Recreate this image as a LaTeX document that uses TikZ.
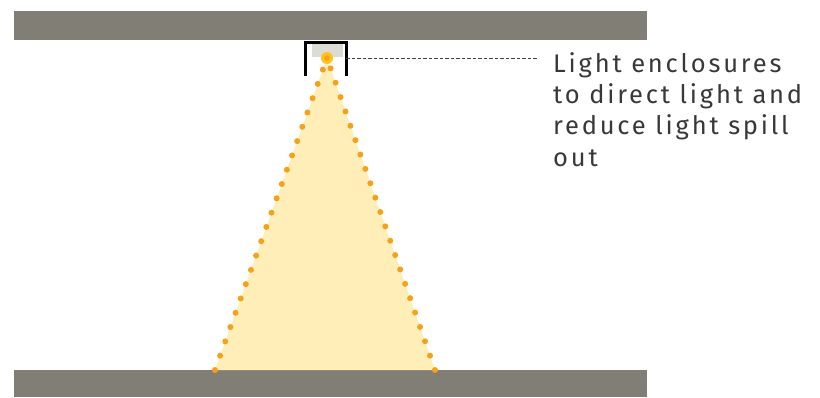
\documentclass[tikz,border=0pt]{standalone}
\usepackage{fontspec}
\setmainfont{Fira Sans}
\usetikzlibrary{positioning}

\definecolor{slab}{HTML}{817E75}
\definecolor{beam}{HTML}{FFEEB8}
\definecolor{beamdot}{HTML}{F7A11A}
\definecolor{housing}{HTML}{DCDBD4}
\definecolor{bulb}{HTML}{FFC21A}

\begin{document}
\begin{tikzpicture}[x=1pt,y=-1pt]
  \tikzstyle{slabbox}=[fill=slab,draw=none,minimum width=633pt,minimum height=29pt,inner sep=0pt]
  \tikzstyle{beamedge}=[beamdot,line width=6pt,line cap=round,dash pattern=on 0pt off 15.2pt]
  \useasboundingbox (0,0) rectangle (820,397);
  \node[slabbox,anchor=north west] (ceiling) at (14,11) {};
  \node[slabbox,anchor=south west,minimum height=27pt] (floor) at (14,397) {};
  \node[minimum width=40pt,minimum height=33pt,inner sep=0pt] (encl) at (326,59.5) {};
  \node[fill=housing,minimum width=31pt,minimum height=14pt,inner sep=0pt,anchor=north] (shade) at (327.5,43) {};
  \coordinate (beamL) at (215,370);
  \coordinate (beamR) at (435,370);
  \coordinate (src) at (327,58);
  % light cone
  \fill[beam] (src) -- (beamL) -- (beamR) -- cycle;
  \draw[beamedge] (beamL) -- (src);
  \draw[beamedge] (beamR) -- (src);
  \node[circle,fill=bulb,minimum size=12pt,inner sep=0pt] (lamp) at (src) {};
  \fill[beamdot] (lamp) circle (2.8pt);
  % enclosure bracket
  \draw[line width=2.8pt] (encl.south west) -- (encl.north west) -- (encl.north east) -- (encl.south east);
  \node[anchor=north west,align=left,inner sep=0pt,text=black!78,
        font=\fontsize{25.5}{31.4}\addfontfeatures{LetterSpace=11}\selectfont] (note) at (553,52)
    {Light enclosures\\to direct light and\\reduce light spill\\out};
  \draw[dashed,dash pattern=on 3.5pt off 2pt,line width=1pt,black!75] (encl.east |- src) -- ([xshift=-15pt]note.west |- src);
\end{tikzpicture}
\end{document}
